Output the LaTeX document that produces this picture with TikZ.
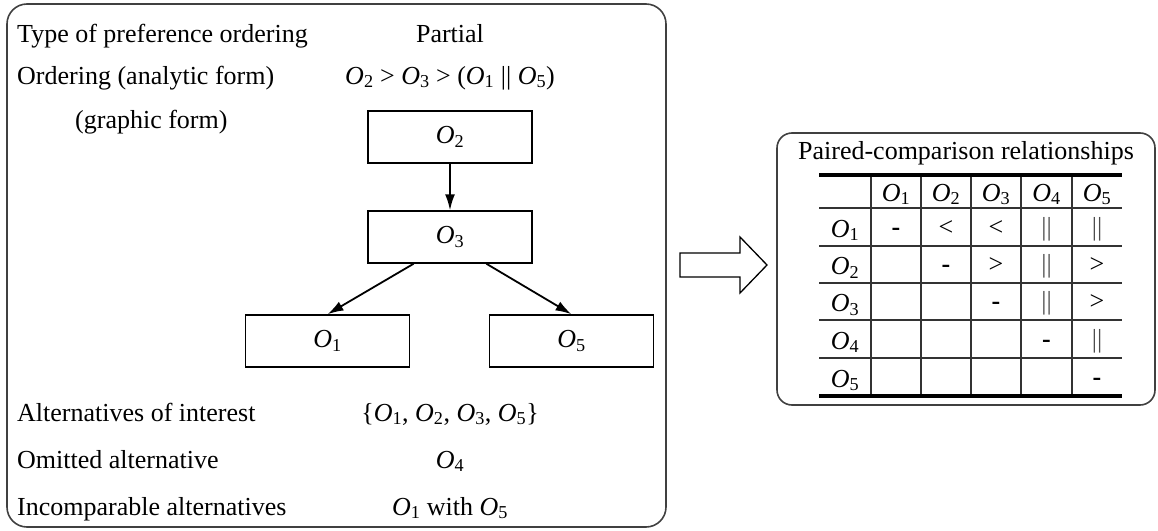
\documentclass[tikz,border=0pt]{standalone}
\usepackage{fontspec}
\setmainfont{Liberation Serif}
\usetikzlibrary{arrows.meta,calc}
\newcommand{\Ov}[1]{\textit{O}\textsubscript{#1}}
\begin{document}
\begin{tikzpicture}[x=1pt,y=-1pt,
  every node/.style={font=\fontsize{26}{30}\selectfont, inner sep=0pt},
  panel/.style={draw=black!75, line width=1.6pt, rounded corners=20pt},
  obox/.style={draw, line width=1.5pt, minimum width=164pt, minimum height=52pt},
  lbl/.style={anchor=base west},
  val/.style={anchor=base},
  conn/.style={line width=1.8pt, -{Latex[length=16pt,width=10pt]}},
  grid/.style={draw=black!80, line width=1.5pt},
  thick rule/.style={line width=4pt},
  cell/.style={anchor=base}
]
\useasboundingbox (0,0) rectangle (1158,530);
% left panel
\draw[panel] (7,4) rectangle (666,527);
\node[lbl] (t1) at (17,42) {Type of preference ordering};
\node[val] (v1) at (450,42) {Partial};
\node[lbl] (t2) at (17,84) {Ordering (analytic form)};
\node[val] (v2) at (450,84) {\Ov{2} > \Ov{3} > (\Ov{1} || \Ov{5})};
\node[lbl] (t3) at (75,128) {(graphic form)};
\node[obox] (O2) at (450,137) {\Ov{2}};
\node[obox] (O3) at (450,237) {\Ov{3}};
\node[obox] (O1) at (327.5,341) {\Ov{1}};
\node[obox] (O5) at (571.5,341) {\Ov{5}};
\draw[conn] (O2.south) -- (O3.north);
\draw[conn] ($(O3.south west)!0.28!(O3.south east)$) -- (O1.north);
\draw[conn] ($(O3.south west)!0.72!(O3.south east)$) -- (O5.north);
\node[lbl] (t4) at (17,421) {Alternatives of interest};
\node[val] (v4) at (450,421) {\{\Ov{1}, \Ov{2}, \Ov{3}, \Ov{5}\}};
\node[lbl] (t5) at (17,468) {Omitted alternative};
\node[val] (v5) at (450,468) {\Ov{4}};
\node[lbl] (t6) at (17,515) {Incomparable alternatives};
\node[val] (v6) at (450,515) {\Ov{1} with \Ov{5}};
% big arrow
\draw[line width=1.3pt, line join=miter] (680,253) -- (740,253) -- (740,237) -- (767,265) -- (740,293) -- (740,277) -- (680,277) -- cycle;
% right panel
\draw[panel, rounded corners=15pt] (777,133) rectangle (1155,405);
\node[anchor=base] (title) at (966,159) {Paired-comparison relationships};
% table lines
\draw[thick rule] (819,175) -- (1122,175);
\draw[thick rule] (819,396) -- (1122,396);
\foreach \y in {208,246,283,320,358} \draw[grid] (819,\y) -- (1122,\y);
\foreach \x in {871,921,971,1021,1072} \draw[grid] (\x,177) -- (\x,394);
% header
\foreach \c/\x in {1/896,2/946,3/996,4/1046.5,5/1097}
  \node[cell] (h\c) at (\x,201) {\Ov{\c}};
\foreach \r/\y in {1/237,2/274.5,3/311.5,4/349,5/387}
  \node[cell] (r\r) at (845,\y) {\Ov{\r}};
% entries
\node[cell] (c11) at (896,235) {\textbf{-}};
\node[cell] (c12) at (946,235) {<};
\node[cell] (c13) at (996,235) {<};
\node[cell,black!70] (c14) at (1046.5,235) {||};
\node[cell,black!70] (c15) at (1097,235) {||};
\node[cell] (c22) at (946,272.5) {\textbf{-}};
\node[cell] (c23) at (996,272.5) {>};
\node[cell,black!70] (c24) at (1046.5,272.5) {||};
\node[cell] (c25) at (1097,272.5) {>};
\node[cell] (c33) at (996,309.5) {\textbf{-}};
\node[cell,black!70] (c34) at (1046.5,309.5) {||};
\node[cell] (c35) at (1097,309.5) {>};
\node[cell] (c44) at (1046.5,347) {\textbf{-}};
\node[cell,black!70] (c45) at (1097,347) {||};
\node[cell] (c55) at (1097,385) {\textbf{-}};
\end{tikzpicture}
\end{document}
